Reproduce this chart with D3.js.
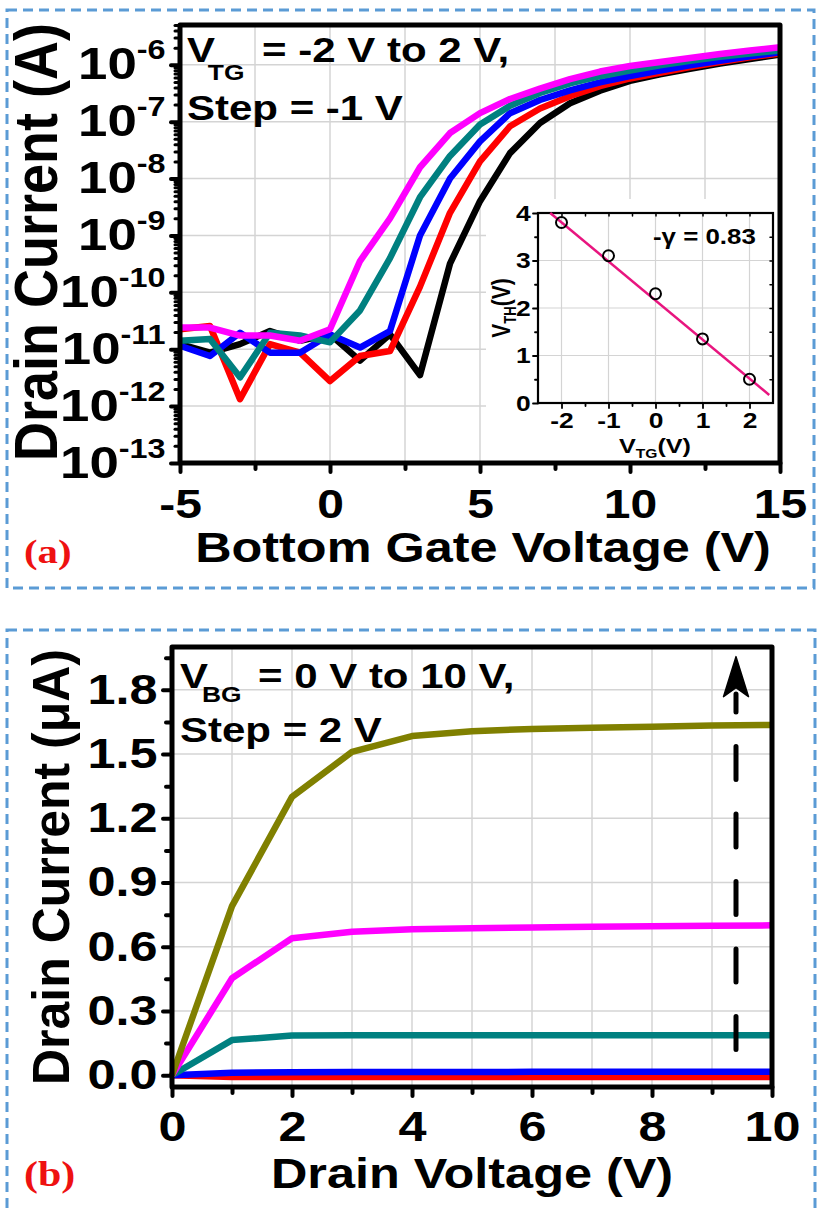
<!DOCTYPE html>
<html>
<head>
<meta charset="utf-8">
<script src="https://cdn.jsdelivr.net/npm/d3@7"></script>
<style>
body { margin: 0; background: #fff; }
svg text { font-family: "Liberation Sans", Arial, sans-serif; font-weight: bold; fill: #000; }
</style>
</head>
<body>
<div id="container"></div>
<script>
// ---- panel (a): transfer curves, Id vs bottom gate voltage, one point per volt
const vbg = [-5, -4, -3, -2, -1, 0, 1, 2, 3, 4, 5, 6, 7, 8, 9, 10, 11, 12, 13, 14, 15];
const idTgP2 = [1.23e-11, 8.7e-12, 1.23e-11, 2.09e-11, 1.41e-11, 1.82e-11, 6.3e-12, 1.82e-11, 3.5e-12, 3.2e-10, 4.0e-9, 2.8e-8, 9.5e-8, 2.1e-7, 3.5e-7, 5.2e-7, 6.8e-7, 8.5e-7, 1.05e-6, 1.26e-6, 1.51e-6];
const idTgP1 = [2.24e-11, 2.57e-11, 1.32e-12, 1.23e-11, 8.7e-12, 2.75e-12, 7.6e-12, 9.3e-12, 1.26e-10, 2.5e-9, 2.0e-8, 8.3e-8, 1.7e-7, 2.8e-7, 4.2e-7, 5.75e-7, 7.2e-7, 9.1e-7, 1.12e-6, 1.35e-6, 1.58e-6];
const idTg0 = [1.15e-11, 7.6e-12, 1.95e-11, 8.7e-12, 8.7e-12, 1.82e-11, 1.07e-11, 2.09e-11, 1.0e-9, 1.0e-8, 4.5e-8, 1.41e-7, 2.4e-7, 3.55e-7, 4.9e-7, 6.3e-7, 7.9e-7, 9.8e-7, 1.17e-6, 1.41e-6, 1.66e-6];
const idTgM1 = [1.41e-11, 1.51e-11, 3.2e-12, 1.95e-11, 1.74e-11, 1.32e-11, 4.8e-11, 4.0e-10, 4.7e-9, 2.5e-8, 8.9e-8, 1.9e-7, 3.2e-7, 4.7e-7, 6.3e-7, 7.9e-7, 9.8e-7, 1.17e-6, 1.38e-6, 1.58e-6, 1.78e-6];
const idTgM2 = [2.4e-11, 2.4e-11, 1.74e-11, 1.74e-11, 1.41e-11, 2.24e-11, 3.55e-10, 2.0e-9, 1.58e-8, 6.3e-8, 1.41e-7, 2.5e-7, 3.8e-7, 5.6e-7, 7.6e-7, 9.5e-7, 1.12e-6, 1.32e-6, 1.55e-6, 1.78e-6, 2.04e-6];
const seriesA = [idTgP2, idTgP1, idTg0, idTgM1, idTgM2];
const coloursA = ["#000000", "#ff0000", "#0000ff", "#008080", "#ff00ff"];
const xTicksA = [-5, 0, 5, 10, 15];
const xMinorA = [-2.5, 2.5, 7.5, 12.5];

// inset: threshold voltage vs top gate voltage
const vtg = [-2, -1, 0, 1, 2];
const vth = [3.8, 3.1, 2.3, 1.35, 0.5];
const fitVtg = [-2.24, 2.42];
const fitVth = [4.0, 0.17];

// ---- panel (b): output curves, Id (uA) vs drain voltage
const vd = [0, 1, 2, 3, 4, 5, 6, 7, 8, 9, 10];
const idBg0 = [0, -0.008, -0.008, -0.008, -0.008, -0.008, -0.008, -0.008, -0.008, -0.008, -0.008];
const idBg2 = [0, 0.012, 0.014, 0.015, 0.015, 0.015, 0.016, 0.016, 0.016, 0.016, 0.016];
const idBg4 = [0, 0.164, 0.185, 0.187, 0.187, 0.187, 0.187, 0.187, 0.187, 0.187, 0.187];
const idBg6 = [0, 0.453, 0.64, 0.67, 0.682, 0.687, 0.69, 0.693, 0.696, 0.698, 0.70];
const idBg10 = [0, 0.79, 1.30, 1.51, 1.584, 1.607, 1.617, 1.623, 1.628, 1.633, 1.636];
const seriesB = [idBg0, idBg2, idBg4, idBg6, idBg10];
const coloursB = ["#ff0000", "#0000ff", "#008080", "#ff00ff", "#808000"];
const yTicksB = [0, 0.3, 0.6, 0.9, 1.2, 1.5, 1.8];
const yMinorB = [0.15, 0.45, 0.75, 1.05, 1.35, 1.65, 1.95];
const xTicksB = [0, 2, 4, 6, 8, 10];
const xMinorB = [1, 3, 5, 7, 9];

const W = 817, H = 1209;
const SX = 1.2; // text in the figure is stretched sideways
const GRID = "#d4d4d4";

const svg = d3.select("#container").append("svg")
    .attr("width", W)
    .attr("height", H)
    .attr("viewBox", [0, 0, W, H]);

function label(g, x, y, parts, size, opt = {}) {
    const t = g.append("text")
        .attr("transform", `translate(${x},${y}) scale(${opt.sx || SX},1)` + (opt.rot ? " rotate(-90)" : ""))
        .attr("font-size", size)
        .attr("text-anchor", opt.anchor || "start");
    if (opt.fill) t.style("fill", opt.fill);
    if (opt.family) t.style("font-family", opt.family);
    parts.forEach(p => {
        if (typeof p === "string") t.append("tspan").text(p);
        else t.append("tspan").attr("font-size", p.size || size).attr("dy", p.dy || 0).attr("dx", p.dx || 0).text(p.t);
    });
    return t;
}

function styleTicks(g, width) {
    g.select(".domain").remove();
    g.selectAll(".tick line").attr("stroke", "#000").attr("stroke-width", width).attr("stroke-linecap", "round");
}

function borderBox(x0, y0, x1, y1) {
    svg.append("rect")
        .attr("x", x0).attr("y", y0).attr("width", x1 - x0).attr("height", y1 - y0)
        .attr("fill", "none").attr("stroke", "#5b9bd5").attr("stroke-width", 3)
        .attr("stroke-dasharray", "10 6");
}

// ================= panel (a) =================
const A = {l: 180, r: 780, t: 25, b: 463};
const xA = d3.scaleLinear().domain([-5, 15]).range([A.l, A.r]);
const yA = d3.scaleLog().domain([1e-13, 5e-6]).range([A.b, A.t]);
const decades = yA.ticks().filter(d => Math.abs(Math.log10(d) - Math.round(Math.log10(d))) < 1e-6);
const minorLog = yA.ticks().filter(d => Math.abs(Math.log10(d) - Math.round(Math.log10(d))) > 1e-6);

borderBox(7, 10, 814, 588);
const gA = svg.append("g");

gA.append("g").selectAll("line").data(xMinorA.concat([0, 5, 10])).join("line")
    .attr("x1", d => xA(d)).attr("x2", d => xA(d)).attr("y1", A.t).attr("y2", A.b)
    .attr("stroke", GRID).attr("stroke-width", 1.5);
gA.append("g").selectAll("line").data(decades.slice(1)).join("line")
    .attr("x1", A.l).attr("x2", A.r).attr("y1", d => yA(d)).attr("y2", d => yA(d))
    .attr("stroke", GRID).attr("stroke-width", 1.5);

// inset background hides the main grid
gA.append("rect").attr("x", 486).attr("y", 199).attr("width", A.r - 486).attr("height", A.b - 199).attr("fill", "#fff");

const lineA = d3.line().x((d, i) => xA(vbg[i])).y(d => yA(d));
gA.append("g").selectAll("path").data(seriesA).join("path")
    .attr("d", lineA)
    .attr("fill", "none")
    .attr("stroke", (d, i) => coloursA[i])
    .attr("stroke-width", 6.5)
    .attr("stroke-linejoin", "round");

// axes
gA.append("g").attr("transform", `translate(0,${A.b})`)
    .call(d3.axisBottom(xA).tickValues(xMinorA).tickSize(6).tickFormat(""))
    .call(g => styleTicks(g, 4));
gA.append("g").attr("transform", `translate(0,${A.b})`)
    .call(d3.axisBottom(xA).tickValues(xTicksA).tickSize(9).tickFormat(d => String(d)))
    .call(g => styleTicks(g, 4))
    .call(g => g.selectAll(".tick text").attr("font-size", 40).attr("y", 27).attr("transform", `scale(${SX},1)`));
gA.append("g").attr("transform", `translate(${A.l},0)`)
    .call(d3.axisLeft(yA).tickValues(minorLog).tickSize(5).tickFormat(""))
    .call(g => styleTicks(g, 3));
gA.append("g").attr("transform", `translate(${A.l},0)`)
    .call(d3.axisLeft(yA).tickValues(decades).tickSize(9).tickFormat(""))
    .call(g => styleTicks(g, 4))
    .call(g => g.selectAll(".tick text")
        .attr("font-size", 44).attr("x", -12).attr("transform", `scale(${SX},1)`)
        .each(function (d) {
            const t = d3.select(this).text(null);
            t.append("tspan").text("10");
            t.append("tspan").attr("font-size", 27).attr("dy", -20).text(String(Math.round(Math.log10(d))));
        }));

gA.append("rect").attr("x", A.l).attr("y", A.t).attr("width", A.r - A.l).attr("height", A.b - A.t)
    .attr("fill", "none").attr("stroke", "#000").attr("stroke-width", 5).attr("stroke-linejoin", "round");

label(gA, 187, 62, ["V", {t: "TG", size: 22, dy: 18, dx: -6}, {t: " = -2 V to 2 V,", dy: -18, dx: 5}], 35);
label(gA, 187, 120, ["Step = -1 V"], 35);
label(gA, 57, 242, ["Drain Current (A)"], 54, {rot: true, anchor: "middle", sx: 1.12});
label(gA, 483, 562, ["Bottom Gate Voltage (V)"], 42, {anchor: "middle"});
label(svg, 24, 563, ["(a)"], 34, {fill: "#ee1111", family: '"Liberation Serif", "Times New Roman", serif'});

// ---- inset
const I = {l: 538, r: 773, t: 213, b: 403};
const xI = d3.scaleLinear().domain([-2.5, 2.5]).range([I.l, I.r]);
const yI = d3.scaleLinear().domain([0, 4]).range([I.b, I.t]);
const gI = gA.append("g");
gI.append("g").selectAll("line").data(vtg).join("line")
    .attr("x1", d => xI(d)).attr("x2", d => xI(d)).attr("y1", I.t).attr("y2", I.b)
    .attr("stroke", GRID).attr("stroke-width", 1.2);
gI.append("g").selectAll("line").data([1, 2, 3]).join("line")
    .attr("x1", I.l).attr("x2", I.r).attr("y1", d => yI(d)).attr("y2", d => yI(d))
    .attr("stroke", GRID).attr("stroke-width", 1.2);

gI.append("g").attr("transform", `translate(0,${I.b})`)
    .call(d3.axisBottom(xI).tickValues([-1.5, -0.5, 0.5, 1.5]).tickSize(3).tickFormat(""))
    .call(g => styleTicks(g, 1.8));
gI.append("g").attr("transform", `translate(0,${I.b})`)
    .call(d3.axisBottom(xI).tickValues(vtg).tickSize(5).tickFormat(d => String(d)))
    .call(g => styleTicks(g, 1.8))
    .call(g => g.selectAll(".tick text").attr("font-size", 22).attr("y", 9).attr("transform", `scale(${SX},1)`));
gI.append("g").attr("transform", `translate(0,${I.t})`)
    .call(d3.axisTop(xI).tickValues([-2, -1.5, -1, -0.5, 0, 0.5, 1, 1.5, 2]).tickSize(-3).tickFormat(""))
    .call(g => styleTicks(g, 1.5));
gI.append("g").attr("transform", `translate(${I.l},0)`)
    .call(d3.axisLeft(yI).tickValues([0.5, 1.5, 2.5, 3.5]).tickSize(3).tickFormat(""))
    .call(g => styleTicks(g, 1.8));
gI.append("g").attr("transform", `translate(${I.l},0)`)
    .call(d3.axisLeft(yI).tickValues([0, 1, 2, 3, 4]).tickSize(5).tickFormat(d => String(d)))
    .call(g => styleTicks(g, 1.8))
    .call(g => g.selectAll(".tick text").attr("font-size", 22).attr("x", -6).attr("transform", `scale(${SX},1)`));
gI.append("g").attr("transform", `translate(${I.r},0)`)
    .call(d3.axisRight(yI).tickValues([0.5, 1, 1.5, 2, 2.5, 3, 3.5]).tickSize(-3).tickFormat(""))
    .call(g => styleTicks(g, 1.5));

gI.append("rect").attr("x", I.l).attr("y", I.t).attr("width", I.r - I.l).attr("height", I.b - I.t)
    .attr("fill", "none").attr("stroke", "#000").attr("stroke-width", 2.2);

gI.append("path")
    .attr("d", d3.line().x((d, i) => xI(fitVtg[i])).y(d => yI(d))(fitVth))
    .attr("fill", "none").attr("stroke", "#e8157f").attr("stroke-width", 2.5);
gI.append("g").selectAll("circle").data(vth).join("circle")
    .attr("cx", (d, i) => xI(vtg[i])).attr("cy", d => yI(d)).attr("r", 5.5)
    .attr("fill", "none").attr("stroke", "#000").attr("stroke-width", 2);

label(gI, 653, 244, ["-γ = 0.83"], 22.5, {sx: 1.15});
label(gI, 655, 453, ["V", {t: "TG", size: 13, dy: 5}, {t: "(V)", dy: -5}], 21, {anchor: "middle"});
label(gI, 510, 308, ["V", {t: "TH", size: 13, dy: 5}, {t: "(V)", dy: -5}], 21, {anchor: "middle", rot: true});

// ================= panel (b) =================
const B = {l: 172, r: 772, t: 647, b: 1087};
const xB = d3.scaleLinear().domain([0, 10]).range([B.l, B.r]);
const yB = d3.scaleLinear().domain([-0.055, 2.0]).range([B.b, B.t]);

borderBox(7, 630, 815, 1215);
const gB = svg.append("g");

gB.append("g").selectAll("line").data(xMinorB.concat([2, 4, 6, 8])).join("line")
    .attr("x1", d => xB(d)).attr("x2", d => xB(d)).attr("y1", B.t).attr("y2", B.b)
    .attr("stroke", GRID).attr("stroke-width", 1.5);
gB.append("g").selectAll("line").data(yTicksB).join("line")
    .attr("x1", B.l).attr("x2", B.r).attr("y1", d => yB(d)).attr("y2", d => yB(d))
    .attr("stroke", GRID).attr("stroke-width", 1.5);

const lineB = d3.line().x((d, i) => xB(vd[i])).y(d => yB(d));
gB.append("g").selectAll("path").data(seriesB).join("path")
    .attr("d", lineB)
    .attr("fill", "none")
    .attr("stroke", (d, i) => coloursB[i])
    .attr("stroke-width", 6.5)
    .attr("stroke-linejoin", "round");

gB.append("g").attr("transform", `translate(0,${B.b})`)
    .call(d3.axisBottom(xB).tickValues(xMinorB).tickSize(6).tickFormat(""))
    .call(g => styleTicks(g, 4));
gB.append("g").attr("transform", `translate(0,${B.b})`)
    .call(d3.axisBottom(xB).tickValues(xTicksB).tickSize(9).tickFormat(d => String(d)))
    .call(g => styleTicks(g, 4))
    .call(g => g.selectAll(".tick text").attr("font-size", 42).attr("y", 24).attr("transform", `scale(${SX},1)`));
gB.append("g").attr("transform", `translate(${B.l},0)`)
    .call(d3.axisLeft(yB).tickValues(yMinorB).tickSize(6).tickFormat(""))
    .call(g => styleTicks(g, 4));
gB.append("g").attr("transform", `translate(${B.l},0)`)
    .call(d3.axisLeft(yB).tickValues(yTicksB).tickSize(9).tickFormat(d3.format(".1f")))
    .call(g => styleTicks(g, 4))
    .call(g => g.selectAll(".tick text").attr("font-size", 42).attr("x", -12).attr("transform", `scale(${SX},1)`));

gB.append("rect").attr("x", B.l).attr("y", B.t).attr("width", B.r - B.l).attr("height", B.b - B.t)
    .attr("fill", "none").attr("stroke", "#000").attr("stroke-width", 5).attr("stroke-linejoin", "round");

// dashed arrow: increasing bottom gate voltage
const arrowVd = 9.4, arrowFrom = 0.12, arrowTo = 1.78, arrowTip = 1.955;
gB.append("line")
    .attr("x1", xB(arrowVd)).attr("x2", xB(arrowVd))
    .attr("y1", yB(arrowFrom)).attr("y2", yB(arrowTo))
    .attr("stroke", "#000").attr("stroke-width", 5).attr("stroke-linecap", "round")
    .attr("stroke-dasharray", "33 34.5");
gB.append("path")
    .attr("transform", `translate(${xB(arrowVd)},${yB(arrowTip)})`)
    .attr("d", "M0,0 L12.5,40 L0,31 L-12.5,40 Z")
    .attr("fill", "#000").attr("stroke", "#000").attr("stroke-width", 1.5).attr("stroke-linejoin", "round");

label(gB, 180, 688, ["V", {t: "BG", size: 22, dy: 14, dx: -5}, {t: " = 0 V to 10 V,", dy: -14, dx: 4}], 35);
label(gB, 180, 742, ["Step = 2 V"], 35);
label(gB, 69, 867, ["Drain Current (μA)"], 50, {rot: true, anchor: "middle", sx: 1.05});
label(gB, 472, 1188, ["Drain Voltage (V)"], 42, {anchor: "middle"});
label(svg, 24, 1186, ["(b)"], 35, {fill: "#ee1111", family: '"Liberation Serif", "Times New Roman", serif'});
</script>
</body>
</html>
